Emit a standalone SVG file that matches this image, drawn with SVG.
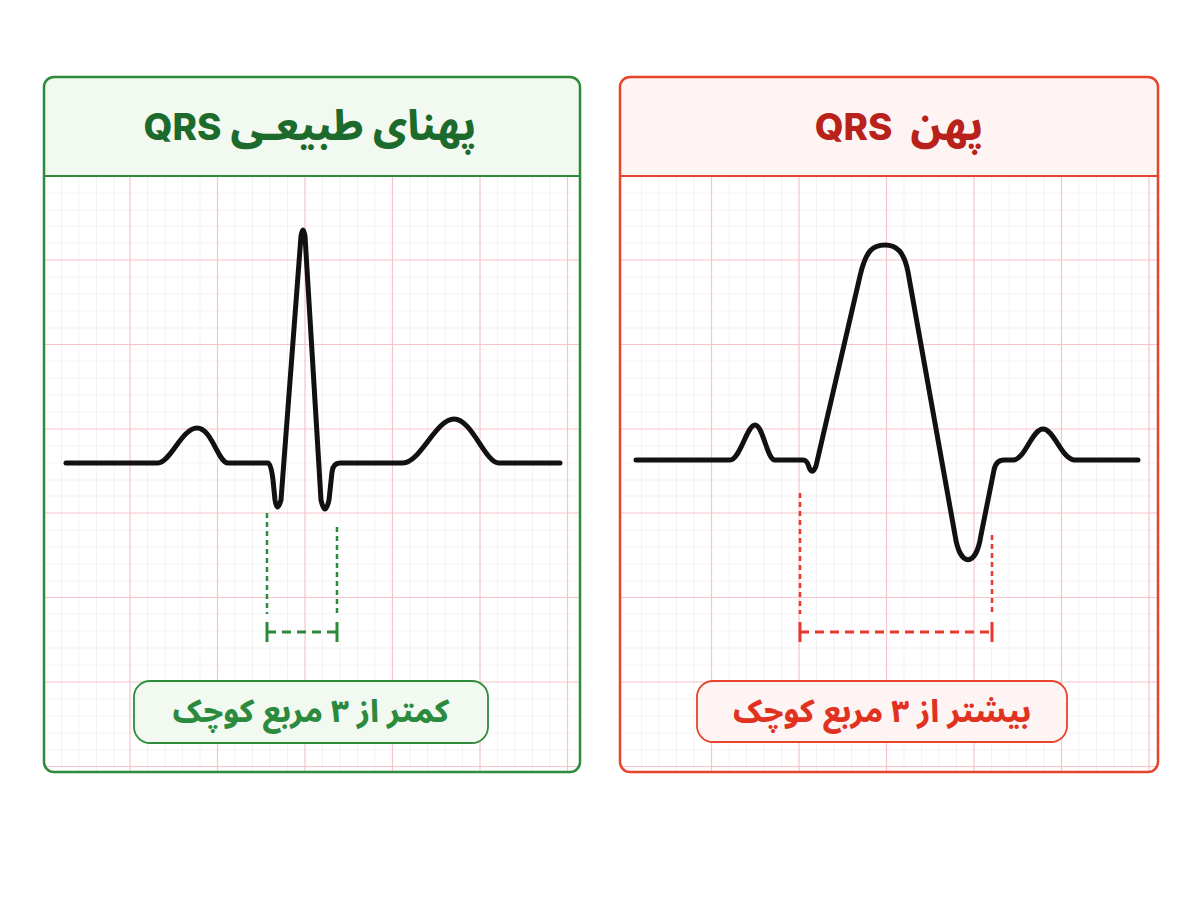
<svg xmlns="http://www.w3.org/2000/svg" width="1200" height="900" viewBox="0 0 1200 900">
  <style>
    .grid { stroke: #f7c4ca; stroke-width: 1.2; fill: none; }
    .minor { stroke: #f6f1f2; stroke-width: 1; fill: none; }
    .wave { stroke: #111; stroke-width: 5; fill: none; stroke-linejoin: round; stroke-linecap: round; }
    .title { font-family: "Inter", "Noto Sans Arabic", "DejaVu Sans", sans-serif; font-weight: 800; font-size: 41px; text-anchor: middle; white-space: pre; }
    .qrs { font-size: 37px; }
    .lbl { font-family: "Noto Sans Arabic", "DejaVu Sans", sans-serif; font-weight: 800; font-size: 31px; text-anchor: middle; }
    .gdash { stroke: #2b8a3e; fill: none; }
    .rdash { stroke: #e8392b; fill: none; }
  </style>
  <defs>
    <clipPath id="clipL"><rect x="44" y="176" width="536" height="596" rx="0"/></clipPath>
    <clipPath id="clipR"><rect x="620" y="176" width="538" height="596"/></clipPath>
  </defs>
  <rect width="1200" height="900" fill="#ffffff"/>

  <!-- Left panel -->
  <g id="panel-normal">
    <rect x="44" y="77" width="536" height="695" rx="10" fill="#ffffff"/>
    <path d="M54,77 H570 A10,10 0 0 1 580,87 V176 H44 V87 A10,10 0 0 1 54,77 Z" fill="#f2f9f1"/>
    <g clip-path="url(#clipL)">
      <g class="minor">
        <path d="M61.5,176 V772 M79,176 V772 M96.5,176 V772 M114,176 V772 M147.5,176 V772 M165,176 V772 M182.5,176 V772 M200,176 V772 M235,176 V772 M252.5,176 V772 M270,176 V772 M287.5,176 V772 M322.5,176 V772 M340,176 V772 M357.5,176 V772 M375,176 V772 M410,176 V772 M427.5,176 V772 M445,176 V772 M462.5,176 V772 M497.5,176 V772 M515,176 V772 M532.5,176 V772 M550,176 V772"/>
        <path d="M44,193 H580 M44,210 H580 M44,226 H580 M44,243 H580 M44,277 H580 M44,294 H580 M44,311 H580 M44,328 H580 M44,361 H580 M44,378 H580 M44,395 H580 M44,412 H580 M44,446 H580 M44,463 H580 M44,480 H580 M44,496 H580 M44,530 H580 M44,547 H580 M44,564 H580 M44,581 H580 M44,614 H580 M44,631 H580 M44,648 H580 M44,665 H580 M44,699 H580 M44,716 H580 M44,733 H580 M44,750 H580"/>
      </g>
      <g class="grid">
        <path d="M130,176 V772 M217.5,176 V772 M305,176 V772 M392.5,176 V772 M480,176 V772 M567.5,176 V772"/>
        <path d="M44,260 H580 M44,344.5 H580 M44,429 H580 M44,513 H580 M44,597.5 H580 M44,682 H580 M44,766.5 H580"/>
      </g>
    </g>
    <line x1="44" y1="176" x2="580" y2="176" stroke="#2e8b3a" stroke-width="2"/>
    <rect x="44" y="77" width="536" height="695" rx="10" fill="none" stroke="#2e8b3a" stroke-width="2.5"/>
    <text class="title" x="310" y="140" fill="#1d6b2c" direction="rtl">پهنای طبیعـی <tspan class="qrs">QRS</tspan></text>
    <path class="wave" d="M66,463 L158,463 C170,463 182,428 197,428 C212,428 218,463 228,463 L268,463 Q271,463 273,480 L275,500 Q277,514 281,500 L301,236 Q303,224 305,236 L321,500 Q325,518 329,500 L332,472 Q333,463 340,463 L403,463 C420,463 436,419 454,419 C472,419 485,463 499,463 L560,463"/>
    <g id="measure-normal">
      <line class="gdash" x1="267" y1="513" x2="267" y2="614" stroke-width="2.5" stroke-dasharray="5 4"/>
      <line class="gdash" x1="337" y1="527" x2="337" y2="614" stroke-width="2.5" stroke-dasharray="5 4"/>
      <line class="gdash" x1="267" y1="632" x2="337" y2="632" stroke-width="3" stroke-dasharray="9 6"/>
      <line class="gdash" x1="267" y1="622" x2="267" y2="642" stroke-width="3"/>
      <line class="gdash" x1="337" y1="622" x2="337" y2="642" stroke-width="3"/>
    </g>
    <g id="label-normal">
      <rect x="134" y="681" width="354" height="62" rx="16" fill="#f2f9f1" stroke="#2e8b3a" stroke-width="1.8"/>
      <text class="lbl" x="311" y="722" fill="#2b8a3e" direction="rtl">کمتر از ۳ مربع کوچک</text>
    </g>
  </g>

  <!-- Right panel -->
  <g id="panel-wide">
    <rect x="620" y="77" width="538" height="695" rx="10" fill="#ffffff"/>
    <path d="M630,77 H1148 A10,10 0 0 1 1158,87 V176 H620 V87 A10,10 0 0 1 630,77 Z" fill="#fdf4f3"/>
    <g clip-path="url(#clipR)">
      <g class="minor">
        <path d="M641.5,176 V772 M659,176 V772 M676.5,176 V772 M694,176 V772 M729,176 V772 M746.5,176 V772 M764,176 V772 M781.5,176 V772 M816.5,176 V772 M834,176 V772 M851.5,176 V772 M869,176 V772 M904,176 V772 M921.5,176 V772 M939,176 V772 M956.5,176 V772 M991.5,176 V772 M1009,176 V772 M1026.5,176 V772 M1044,176 V772 M1079,176 V772 M1096.5,176 V772 M1114,176 V772 M1131.5,176 V772"/>
        <path d="M620,193 H1158 M620,210 H1158 M620,226 H1158 M620,243 H1158 M620,277 H1158 M620,294 H1158 M620,311 H1158 M620,328 H1158 M620,361 H1158 M620,378 H1158 M620,395 H1158 M620,412 H1158 M620,446 H1158 M620,463 H1158 M620,480 H1158 M620,496 H1158 M620,530 H1158 M620,547 H1158 M620,564 H1158 M620,581 H1158 M620,614 H1158 M620,631 H1158 M620,648 H1158 M620,665 H1158 M620,699 H1158 M620,716 H1158 M620,733 H1158 M620,750 H1158"/>
      </g>
      <g class="grid">
        <path d="M711.5,176 V772 M799,176 V772 M886.5,176 V772 M974,176 V772 M1061.5,176 V772 M1149,176 V772"/>
        <path d="M620,260 H1158 M620,344.5 H1158 M620,429 H1158 M620,513 H1158 M620,597.5 H1158 M620,682 H1158 M620,766.5 H1158"/>
      </g>
    </g>
    <line x1="620" y1="176" x2="1158" y2="176" stroke="#e8432b" stroke-width="2"/>
    <rect x="620" y="77" width="538" height="695" rx="10" fill="none" stroke="#e8432b" stroke-width="2.5"/>
    <text class="title" x="899" y="140" fill="#b8221a" direction="rtl">پهن  <tspan class="qrs">QRS</tspan></text>
    <path class="wave" d="M636,460 L730,460 C740,460 747,425 755,425 C763,425 767,460 775,460 L803,460 Q807,460 809,467 Q812,476 816,466 L860,276 C866,250 873,245 885,245 C897,245 904,252 908,272 L955,535 C960,568 976,568 981,535 L994,470 Q996,460 1004,460 L1013,460 C1025,460 1032,429 1043,429 C1054,429 1062,460 1075,460 L1138,460"/>
    <g id="measure-wide">
      <line class="rdash" x1="800" y1="493" x2="800" y2="614" stroke-width="2.5" stroke-dasharray="5 4"/>
      <line class="rdash" x1="992" y1="535" x2="992" y2="614" stroke-width="2.5" stroke-dasharray="5 4"/>
      <line class="rdash" x1="800" y1="632" x2="992" y2="632" stroke-width="3" stroke-dasharray="9 6"/>
      <line class="rdash" x1="800" y1="622" x2="800" y2="642" stroke-width="3"/>
      <line class="rdash" x1="992" y1="622" x2="992" y2="642" stroke-width="3"/>
    </g>
    <g id="label-wide">
      <rect x="697" y="681" width="370" height="61" rx="16" fill="#fdf4f3" stroke="#e8432b" stroke-width="1.8"/>
      <text class="lbl" x="882" y="722" fill="#e0321f" direction="rtl">بیشتر از ۳ مربع کوچک</text>
    </g>
  </g>
</svg>
